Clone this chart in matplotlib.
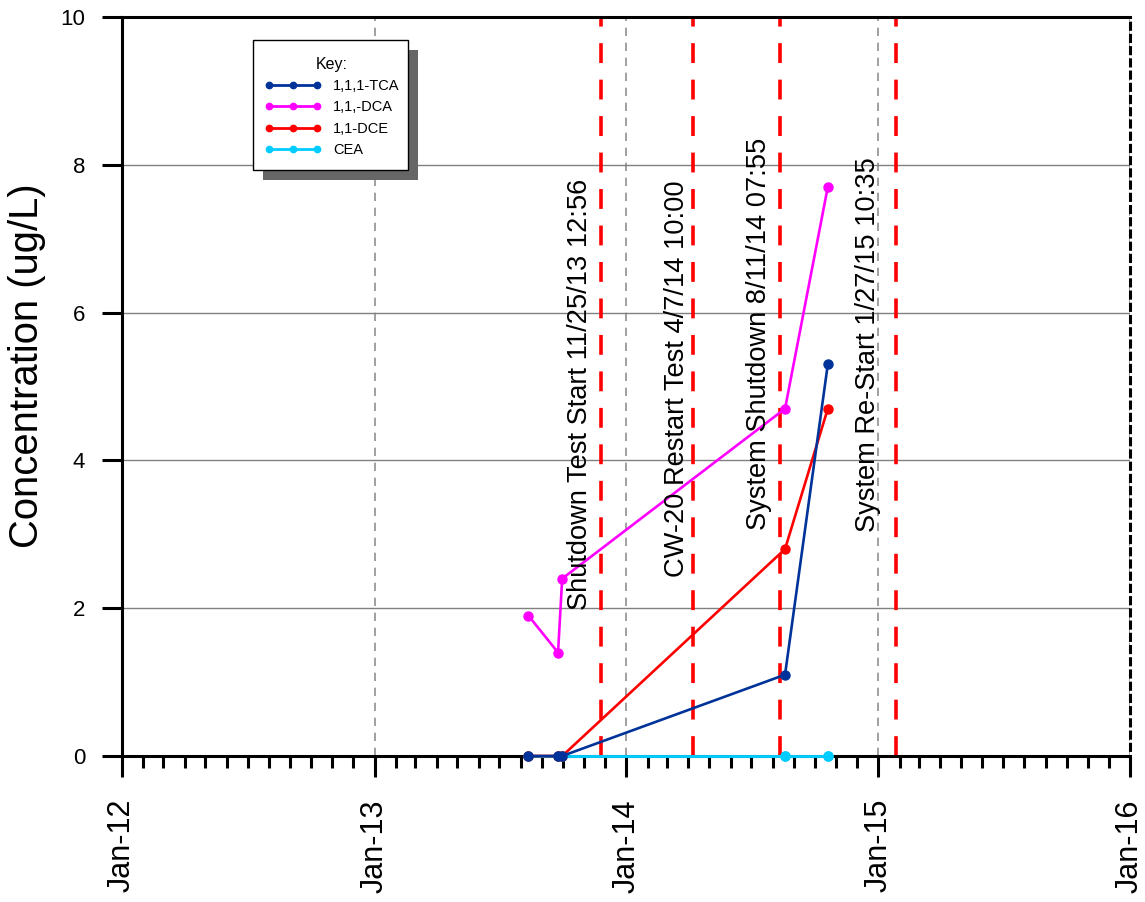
import matplotlib
matplotlib.use("Agg")
import matplotlib.pyplot as plt
import matplotlib.dates as mdates
from matplotlib.patches import Rectangle
from matplotlib.transforms import offset_copy
from datetime import datetime

plt.rcParams['font.family'] = ['Liberation Sans', 'DejaVu Sans']

# ---- data ----
sample_dates = ['2013-08-12', '2013-09-24', '2013-09-30', '2014-08-19', '2014-10-20']
tca = [0.0, 0.0, 0.0, 1.1, 5.3]
dca = [1.9, 1.4, 2.4, 4.7, 7.7]
dce = [0.0, 0.0, 0.0, 2.8, 4.7]
cea = [0.0, 0.0, 0.0, 0.0, 0.0]
series_names = ['1,1,1-TCA', '1,1,-DCA', '1,1-DCE', 'CEA']

event_times = ['2013-11-25 12:56', '2014-04-07 10:00', '2014-08-11 07:55', '2015-01-27 10:35']
event_labels = ['Shutdown Test Start 11/25/13 12:56',
                'CW-20 Restart Test 4/7/14 10:00',
                'System Shutdown 8/11/14 07:55',
                'System Re-Start 1/27/15 10:35']
# label placement offsets (pixels) relative to (event, 0)
event_dx = [-21, -16, -21, -28]
event_dy = [146, 179, 226, 224]

x_start, x_end = '2012-01-01', '2016-01-01'
y_ticks = [0, 2, 4, 6, 8, 10]

# ---- figure ----
fig = plt.figure(figsize=(11.45, 9.02), dpi=100)
ax = fig.add_axes([122/1145, 1-756/902, (1130-122)/1145, (756-17)/902])

d = [datetime.strptime(s, '%Y-%m-%d') for s in sample_dates]

colors = {'tca': '#003399', 'dca': '#FF00FF', 'dce': '#FF0000', 'cea': '#00CCFF'}
lw = 1.9
ms = 6.5
l_cea, = ax.plot(d, cea, '-o', color=colors['cea'], lw=lw, ms=ms, clip_on=False, zorder=3)
l_dce, = ax.plot(d, dce, '-o', color=colors['dce'], lw=lw, ms=ms, clip_on=False, zorder=3.1)
l_dca, = ax.plot(d, dca, '-o', color=colors['dca'], lw=lw, ms=ms, clip_on=False, zorder=3.2)
l_tca, = ax.plot(d, tca, '-o', color=colors['tca'], lw=lw, ms=ms, clip_on=False, zorder=3.3)
# keep CEA segment visible at zero after the last common zero
ax.plot(d[2:], cea[2:], '-', color=colors['cea'], lw=lw, clip_on=False, zorder=3.25)
ax.plot(d[3:], cea[3:], 'o', color=colors['cea'], ms=ms, clip_on=False, zorder=3.4)

for t, lab, dx, dy in zip(event_times, event_labels, event_dx, event_dy):
    te = datetime.strptime(t, '%Y-%m-%d %H:%M')
    ax.axvline(te, color='#FF0000', lw=2.6, dashes=(5.5, 4.6), zorder=2.5)
    ax.annotate(lab, xy=(te, 0), xytext=(dx, dy), textcoords='offset pixels',
                rotation=90, ha='center', va='bottom', fontsize=19.6, zorder=4)

ax.set_xlim(datetime.strptime(x_start, '%Y-%m-%d'), datetime.strptime(x_end, '%Y-%m-%d'))
ax.set_ylim(0, 10)
ax.set_yticks(y_ticks)
ax.yaxis.set_major_formatter(matplotlib.ticker.FormatStrFormatter('%d'))

ax.xaxis.set_major_locator(mdates.YearLocator())
ax.xaxis.set_minor_locator(mdates.MonthLocator())
ax.xaxis.set_major_formatter(mdates.DateFormatter('%b-%y'))
plt.setp(ax.get_xticklabels(), rotation=90)

ax.tick_params(axis='x', which='major', direction='out', length=15, width=2.2,
               labelsize=22, pad=16)
ax.tick_params(axis='x', which='minor', direction='out', length=8.5, width=2.2)
ax.tick_params(axis='y', which='major', direction='out', length=14.5, width=2.2,
               labelsize=16, pad=12)

ax.grid(axis='y', color='#808080', lw=1.0, ls='-', zorder=1)
ax.grid(axis='x', which='major', color='#909090', lw=1.2, ls=(0, (5, 4)), zorder=1)
ax.set_axisbelow(True)

for s in ['left', 'bottom', 'top']:
    ax.spines[s].set_linewidth(2.2)
    ax.spines[s].set_color('black')
ax.spines['right'].set_linewidth(2.2)
ax.spines['right'].set_color('black')
ax.spines['right'].set_linestyle((2, (2, 2)))

ax.set_ylabel('Concentration (ug/L)', fontsize=28.8)
ax.yaxis.set_label_coords(-0.075, 0.528)

# legend frame + shadow (axes fraction layout)
fx0, fx1 = 0.1300, 0.2837
fy0, fy1 = 0.7930, 0.9689
shadow_tr = offset_copy(ax.transAxes, fig=fig, x=10, y=-10, units='dots')
ax.add_patch(Rectangle((fx0, fy0), fx1 - fx0, fy1 - fy0, transform=shadow_tr,
                       facecolor='#666666', edgecolor='none', zorder=5.5))
ax.add_patch(Rectangle((fx0, fy0), fx1 - fx0, fy1 - fy0, transform=ax.transAxes,
                       facecolor='white', edgecolor='black', lw=1.0, zorder=5.6))

leg = ax.legend([l_tca, l_dca, l_dce, l_cea], series_names, title='Key:',
                loc='upper left', bbox_to_anchor=(0.131, 0.960), borderaxespad=0,
                fontsize=10.5, title_fontsize=11.5, numpoints=3, markerscale=0.7,
                handlelength=3.9, handletextpad=0.8, labelspacing=0.5,
                frameon=False, borderpad=0.7)
leg.set_zorder(6)
for h in leg.legend_handles:
    h.set_linewidth(2.0)

fig.savefig('out.png', dpi=100)
